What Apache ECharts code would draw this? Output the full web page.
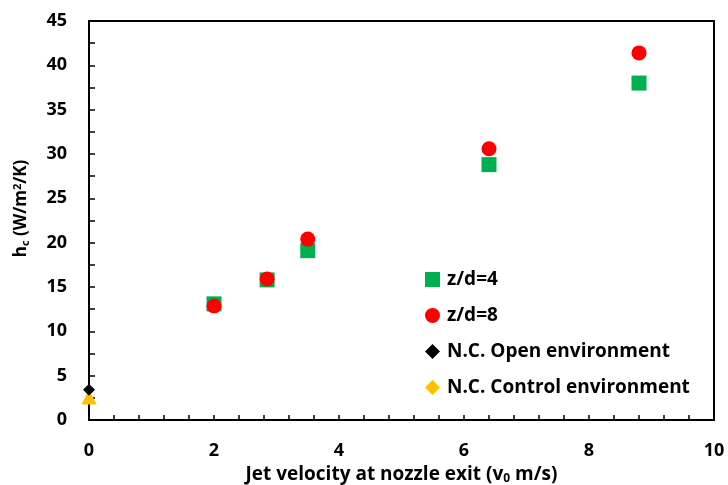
<!DOCTYPE html>
<html>
<head>
<meta charset="utf-8">
<script src="https://cdn.jsdelivr.net/npm/echarts@6/dist/echarts.min.js"></script>
<style>
html,body{margin:0;padding:0;background:#fff;}
#chart{width:728px;height:485px;}
</style>
</head>
<body>
<div id="chart"></div>
<script>
// Jet velocity (m/s) and convective heat transfer coefficient (W/m2/K)
const velocity = [2.0, 2.85, 3.5, 6.4, 8.8];
const hcZd4 = [13.1, 15.8, 19.1, 28.8, 38.0];
const hcZd8 = [12.85, 15.9, 20.4, 30.6, 41.4];
const hcOpen = [[0, 3.4]];
const hcControl = [[0, 2.6]];
const seriesNames = ['z/d=4', 'z/d=8', 'N.C. Open environment', 'N.C. Control environment'];

const font = '"Open Sans", Lato, sans-serif';
const chart = echarts.init(document.getElementById('chart'));

chart.setOption({
  backgroundColor: '#fff',
  animation: false,
  grid: {
    left: 89, right: 14, top: 21, bottom: 65,
    outerBoundsMode: 'none',
    show: true, borderColor: '#000', borderWidth: 2, backgroundColor: 'transparent'
  },
  legend: {
    left: 420, top: 265,
    orient: 'vertical',
    itemGap: 17,
    itemWidth: 15, itemHeight: 15,
    textStyle: { fontFamily: font, fontWeight: 'bold', fontSize: 19, color: '#000', padding: [0, 0, 0, 2] },
    data: [
      { name: seriesNames[0], icon: 'rect' },
      { name: seriesNames[1], icon: 'circle' },
      { name: seriesNames[2], icon: 'diamond' },
      { name: seriesNames[3], icon: 'diamond' }
    ]
  },
  xAxis: {
    type: 'value', min: 0, max: 10, interval: 2,
    axisLine: { show: true, lineStyle: { color: '#000', width: 2 } },
    axisTick: { show: true, inside: true, length: 5, lineStyle: { color: '#000', width: 1.5 } },
    minorTick: { show: true, splitNumber: 5, length: 5, lineStyle: { color: '#000', width: 1.5 } },
    splitLine: { show: false },
    axisLabel: { fontFamily: font, fontWeight: 'bold', fontSize: 18, color: '#000', margin: 22 },
    name: 'Jet velocity at nozzle exit (v{sub|0} m/s)',
    nameLocation: 'middle', nameGap: 43,
    nameTextStyle: {
      fontFamily: font, fontWeight: 'bold', fontSize: 19, color: '#000',
      rich: { sub: { fontFamily: font, fontWeight: 'bold', fontSize: 12, color: '#000', verticalAlign: 'bottom', padding: [9, 0, 0, 0] } }
    }
  },
  yAxis: {
    type: 'value', min: 0, max: 45, interval: 5,
    axisLine: { show: true, lineStyle: { color: '#000', width: 2 } },
    axisTick: { show: true, inside: true, length: 6, lineStyle: { color: '#000', width: 1.5 } },
    minorTick: { show: true, splitNumber: 2, length: 6, lineStyle: { color: '#000', width: 1.5 } },
    splitLine: { show: false },
    axisLabel: { fontFamily: font, fontWeight: 'bold', fontSize: 18, color: '#000', margin: 22 },
    name: 'h{sub|c} (W/m{sup|2}/K)',
    nameLocation: 'middle', nameGap: 58, nameRotate: 90,
    nameTextStyle: {
      fontFamily: font, fontWeight: 'bold', fontSize: 17, color: '#000',
      padding: [0, 0, 0, 24],
      rich: {
        sub: { fontFamily: font, fontWeight: 'bold', fontSize: 11, color: '#000', padding: [8, 0, 0, 0] },
        sup: { fontFamily: font, fontWeight: 'bold', fontSize: 11, color: '#000', padding: [0, 0, 8, 0] }
      }
    }
  },
  series: [
    {
      name: seriesNames[0], type: 'scatter', symbol: 'rect', symbolSize: 15,
      itemStyle: { color: '#00B050', opacity: 1 },
      data: velocity.map((v, i) => [v, hcZd4[i]]), z: 2
    },
    {
      name: seriesNames[1], type: 'scatter', symbol: 'circle', symbolSize: 15,
      itemStyle: { color: '#FF0000', opacity: 1 },
      data: velocity.map((v, i) => [v, hcZd8[i]]), z: 3
    },
    {
      name: seriesNames[3], type: 'scatter', symbol: 'triangle', symbolSize: 15,
      itemStyle: { color: '#FFC000', opacity: 1 },
      data: hcControl, z: 4
    },
    {
      name: seriesNames[2], type: 'scatter', symbol: 'diamond', symbolSize: 12,
      itemStyle: { color: '#000', opacity: 1 },
      data: hcOpen, z: 5
    }
  ]
});
</script>
</body>
</html>
